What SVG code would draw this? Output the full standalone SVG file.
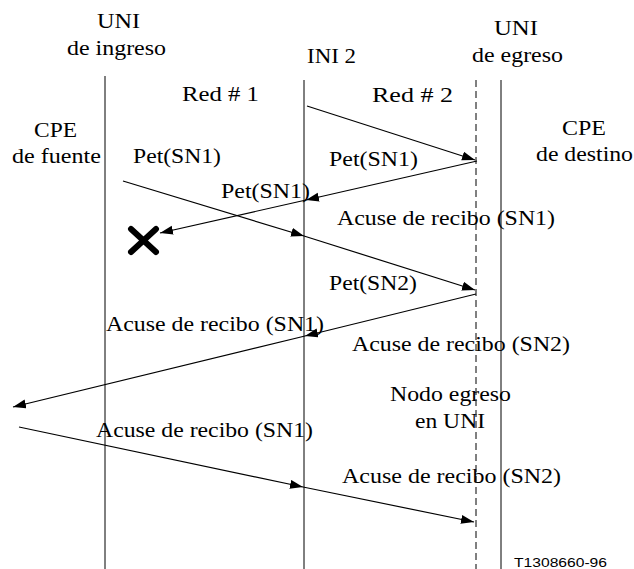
<svg xmlns="http://www.w3.org/2000/svg" width="634" height="569" viewBox="0 0 634 569">
<style>
  .t { font-family: 'Liberation Serif', Tinos, 'Times New Roman', 'DejaVu Serif', serif; font-size: 22px; fill: #000; }
  .small { font-family: 'Liberation Sans', Arimo, Arial, 'DejaVu Sans', sans-serif; font-size: 12px; fill: #000; }
  .life { stroke: #000; stroke-width: 1; fill: none; }
  .dash { stroke-dasharray: 7 4; }
  .msg { stroke: #000; stroke-width: 1.2; fill: none; marker-end: url(#ah); }
</style>
<defs>
  <marker id="ah" markerUnits="userSpaceOnUse" markerWidth="14" markerHeight="10" refX="13" refY="4.5" orient="auto">
    <path d="M0,0 L13,4.5 L0,9 z" fill="#000"/>
  </marker>
</defs>
<rect width="634" height="569" fill="#fff"/>

<g id="uni-ingreso">
  <text class="t" font-family="Liberation Serif, DejaVu Serif, serif" x="97" y="28" textLength="43" lengthAdjust="spacingAndGlyphs">UNI</text>
  <text class="t" x="67" y="55" textLength="99" lengthAdjust="spacingAndGlyphs">de ingreso</text>
  <line class="life" x1="105" y1="76" x2="105" y2="569"/>
</g>
<g id="ini2">
  <text class="t" x="307" y="63" textLength="49" lengthAdjust="spacingAndGlyphs">INI 2</text>
  <line class="life" x1="304" y1="80" x2="304" y2="569"/>
</g>
<g id="uni-egreso">
  <text class="t" x="494" y="35" textLength="44" lengthAdjust="spacingAndGlyphs">UNI</text>
  <text class="t" x="472" y="62" textLength="91" lengthAdjust="spacingAndGlyphs">de egreso</text>
  <line class="life" x1="501" y1="80" x2="501" y2="569"/>
</g>
<g id="nodo-egreso">
  <line class="life dash" x1="476" y1="80" x2="476" y2="569"/>
  <text class="t" x="390" y="401" textLength="121" lengthAdjust="spacingAndGlyphs">Nodo egreso</text>
  <text class="t" x="415" y="428" textLength="70" lengthAdjust="spacingAndGlyphs">en UNI</text>
</g>
<g id="red1">
  <text class="t" x="182" y="101" textLength="77" lengthAdjust="spacingAndGlyphs">Red #  1</text>
</g>
<g id="red2">
  <text class="t" x="372" y="102" textLength="81" lengthAdjust="spacingAndGlyphs">Red #  2</text>
</g>
<g id="cpe-fuente">
  <text class="t" x="34" y="137" textLength="43" lengthAdjust="spacingAndGlyphs">CPE</text>
  <text class="t" x="12" y="163" textLength="89" lengthAdjust="spacingAndGlyphs">de fuente</text>
</g>
<g id="cpe-destino">
  <text class="t" x="562" y="135" textLength="44" lengthAdjust="spacingAndGlyphs">CPE</text>
  <text class="t" x="536" y="161" textLength="97" lengthAdjust="spacingAndGlyphs">de destino</text>
</g>
<g id="perdida">
  <line x1="131" y1="229" x2="156" y2="252" stroke="#000" stroke-width="6" stroke-linecap="round"/>
  <line x1="156" y1="229" x2="131" y2="252" stroke="#000" stroke-width="6" stroke-linecap="round"/>
</g>

<g id="connectors">
  <line class="msg" x1="307" y1="106" x2="475" y2="160"/>
  <line class="msg" x1="477" y1="161" x2="306" y2="200"/>
  <line class="msg" x1="306" y1="200" x2="160" y2="233"/>
  <line class="msg" x1="123" y1="181" x2="304" y2="236"/>
  <line class="msg" x1="304" y1="236" x2="475" y2="290"/>
  <line class="msg" x1="476" y1="294" x2="305" y2="336"/>
  <line class="msg" x1="305" y1="336" x2="13" y2="407"/>
  <line class="msg" x1="19" y1="427" x2="303" y2="487"/>
  <line class="msg" x1="303" y1="487" x2="474" y2="522"/>
</g>

<g id="labels">
  <text class="t" x="133" y="163" textLength="88" lengthAdjust="spacingAndGlyphs">Pet(SN1)</text>
  <text class="t" x="329" y="166" textLength="89" lengthAdjust="spacingAndGlyphs">Pet(SN1)</text>
  <text class="t" x="221" y="198" textLength="89" lengthAdjust="spacingAndGlyphs">Pet(SN1)</text>
  <text class="t" x="337" y="225" textLength="218" lengthAdjust="spacingAndGlyphs">Acuse de recibo (SN1)</text>
  <text class="t" x="329" y="290" textLength="88" lengthAdjust="spacingAndGlyphs">Pet(SN2)</text>
  <text class="t" x="106" y="331" textLength="218" lengthAdjust="spacingAndGlyphs">Acuse de recibo (SN1)</text>
  <text class="t" x="352" y="351" textLength="218" lengthAdjust="spacingAndGlyphs">Acuse de recibo (SN2)</text>
  <text class="t" x="96" y="437" textLength="217" lengthAdjust="spacingAndGlyphs">Acuse de recibo (SN1)</text>
  <text class="t" x="342" y="483" textLength="219" lengthAdjust="spacingAndGlyphs">Acuse de recibo (SN2)</text>
  <text class="small" x="514" y="567" textLength="93" lengthAdjust="spacingAndGlyphs">T1308660-96</text>
</g>
</svg>
